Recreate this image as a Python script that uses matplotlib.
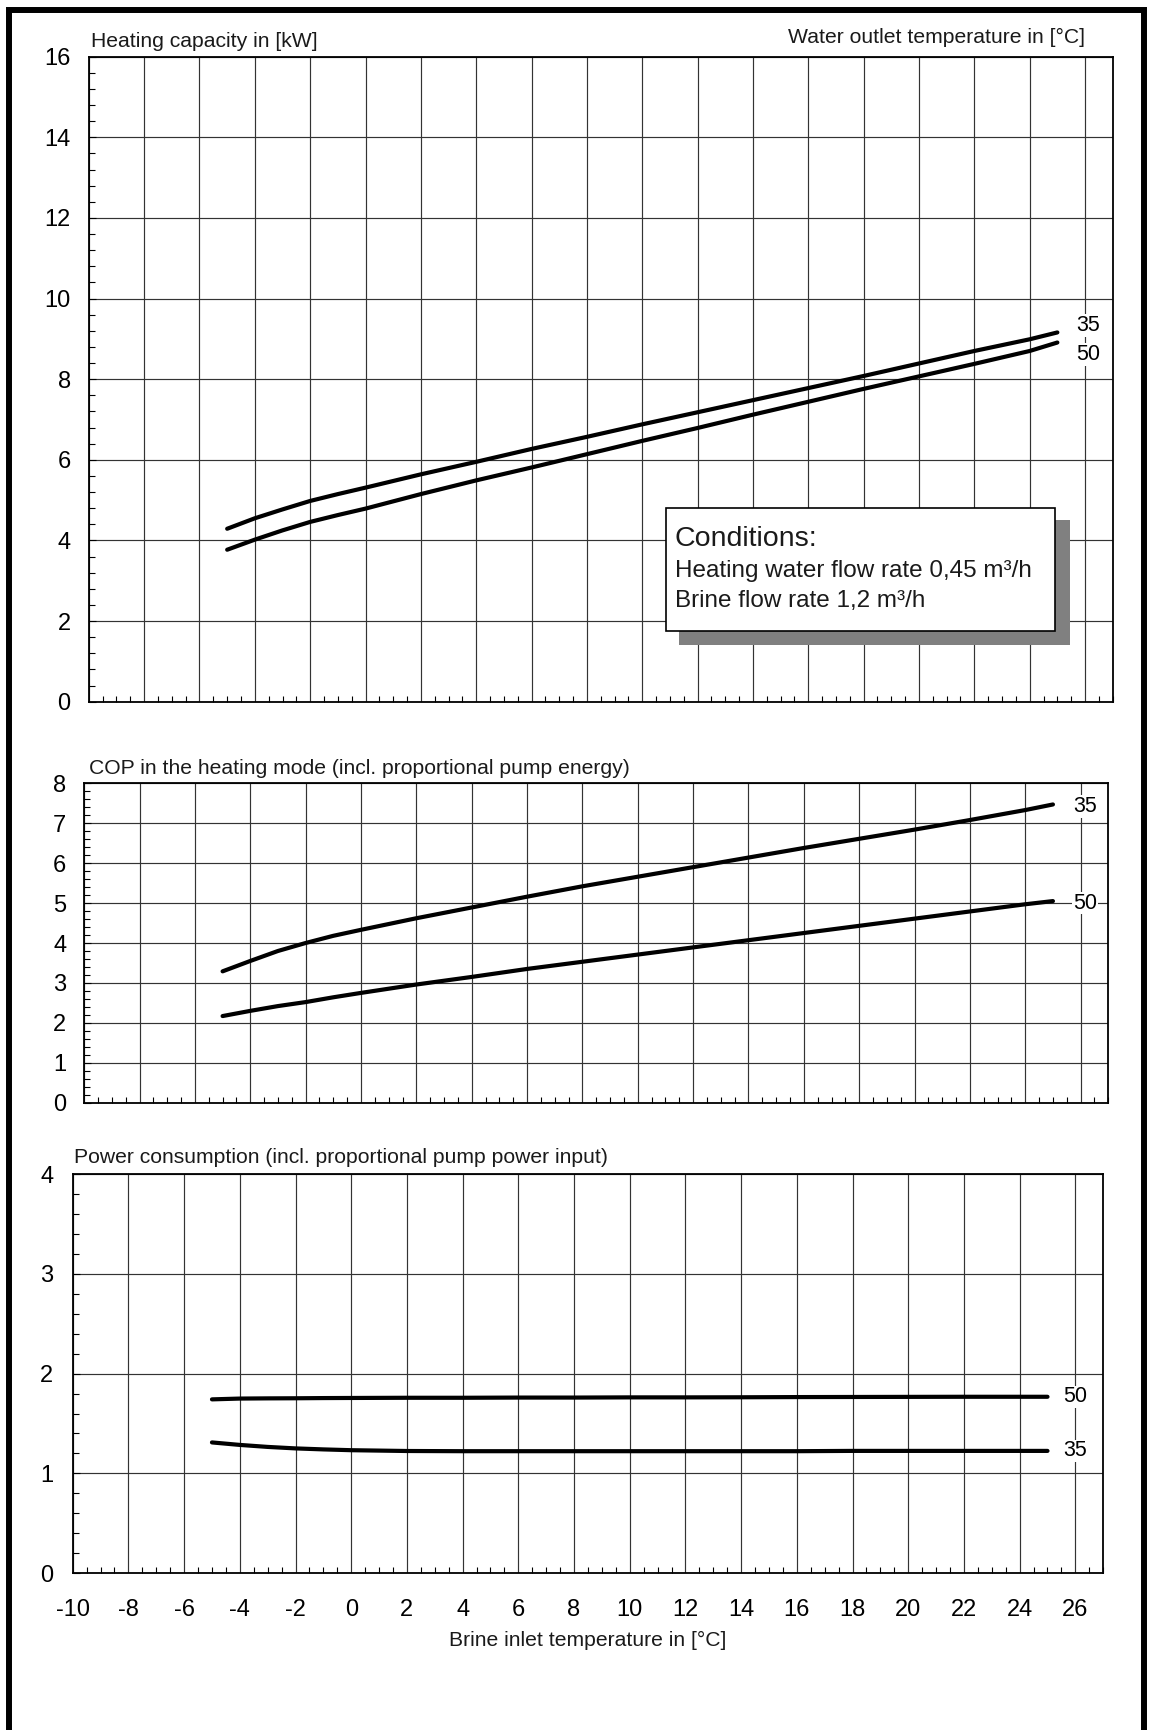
import matplotlib
matplotlib.use("Agg")
import matplotlib.pyplot as plt
from matplotlib.lines import Line2D
from matplotlib.patches import Rectangle
from matplotlib.ticker import MultipleLocator

plt.rcParams["font.family"] = ["Liberation Sans", "DejaVu Sans"]
plt.rcParams["axes.unicode_minus"] = False

# brine inlet temperature (deg C)
brine_t = [-5, -4, -3, -2, -1, 0, 2, 4, 6, 8, 10, 12, 14, 16, 18, 20, 22, 24, 25]

# heating capacity in kW, water outlet 35 / 50 deg C
cap_35 = [4.29, 4.55, 4.77, 4.98, 5.15, 5.31, 5.64, 5.95, 6.27, 6.57, 6.88, 7.18, 7.48, 7.78, 8.08, 8.39, 8.70, 8.99, 9.16]
cap_50 = [3.77, 4.02, 4.25, 4.46, 4.63, 4.79, 5.15, 5.49, 5.81, 6.14, 6.47, 6.79, 7.12, 7.44, 7.76, 8.07, 8.38, 8.70, 8.91]

# COP incl. proportional pump energy
cop_35 = [3.29, 3.55, 3.80, 4.00, 4.18, 4.33, 4.62, 4.89, 5.16, 5.42, 5.66, 5.90, 6.14, 6.38, 6.61, 6.84, 7.08, 7.33, 7.47]
cop_50 = [2.17, 2.30, 2.42, 2.52, 2.64, 2.75, 2.96, 3.15, 3.35, 3.53, 3.71, 3.89, 4.07, 4.25, 4.43, 4.61, 4.79, 4.97, 5.05]

# power consumption in kW
pow_35 = [1.31, 1.285, 1.265, 1.25, 1.24, 1.232, 1.224, 1.222, 1.222, 1.222, 1.222, 1.222, 1.222, 1.222, 1.225, 1.225, 1.225, 1.225, 1.225]
pow_50 = [1.742, 1.75, 1.752, 1.753, 1.755, 1.756, 1.758, 1.758, 1.76, 1.76, 1.762, 1.762, 1.763, 1.765, 1.766, 1.767, 1.768, 1.768, 1.768]

W, H = 1150, 1730
fig = plt.figure(figsize=(W / 100, H / 100), dpi=100)
TXT = "#1a1a1a"


def px_axes(left, top, right, bottom):
    return fig.add_axes([left / W, 1 - bottom / H, (right - left) / W, (bottom - top) / H])


def style(ax, ymax, ystep, yminor, ypad):
    ax.set_xlim(-10, 27)
    ax.set_ylim(0, ymax)
    ax.xaxis.set_major_locator(MultipleLocator(2))
    ax.xaxis.set_minor_locator(MultipleLocator(0.5))
    ax.yaxis.set_major_locator(MultipleLocator(ystep))
    ax.yaxis.set_minor_locator(MultipleLocator(yminor))
    ax.grid(True, which="major", color="#333333", lw=0.85)
    ax.tick_params(which="both", direction="in", top=False, right=False)
    ax.tick_params(which="minor", length=4.5, width=0.8)
    ax.tick_params(axis="y", which="major", length=5, width=0.8, labelsize=17, pad=ypad)
    ax.tick_params(axis="x", which="major", length=0, labelsize=17, pad=19)
    for s in ax.spines.values():
        s.set_linewidth(1.3)


def curve_labels(ax, y35, y50, off35, off50):
    for txt, y, off in (("35", y35, off35), ("50", y50, off50)):
        ax.annotate(txt, xy=(brine_t[-1], y[-1]), xytext=off, textcoords="offset pixels",
                    ha="center", va="center", fontsize=15.5,
                    bbox=dict(fc="white", ec="none", pad=0.5))


# heating capacity
ax1 = px_axes(88.8, 56.7, 1112.7, 701.7)
style(ax1, 16, 2, 0.4, 13)
ax1.tick_params(labelbottom=False)
ax1.plot(brine_t, cap_35, color="black", lw=3, solid_capstyle="round")
ax1.plot(brine_t, cap_50, color="black", lw=3, solid_capstyle="round")
curve_labels(ax1, cap_35, cap_50, (31, 7), (31, -12))

ax1.add_patch(Rectangle((0.5767, 0.0879), 0.3816, 0.1938, transform=ax1.transAxes,
                        fc="#808080", ec="none", zorder=4))
ax1.add_patch(Rectangle((0.5634, 0.1101), 0.3805, 0.1907, transform=ax1.transAxes,
                        fc="white", ec="black", lw=1.2, zorder=5))
ax1.text(0.5725, 0.2419, "Conditions:", transform=ax1.transAxes, fontsize=20.5,
         va="baseline", color=TXT, zorder=6)
ax1.text(0.5725, 0.1938, "Heating water flow rate 0,45 m³/h", transform=ax1.transAxes,
         fontsize=17.5, va="baseline", color=TXT, zorder=6)
ax1.text(0.5725, 0.1473, "Brine flow rate 1,2 m³/h", transform=ax1.transAxes,
         fontsize=17.5, va="baseline", color=TXT, zorder=6)

# COP
ax2 = px_axes(84.2, 783.3, 1108.3, 1102.7)
style(ax2, 8, 1, 0.2, 13)
ax2.tick_params(labelbottom=False)
ax2.plot(brine_t, cop_35, color="black", lw=3, solid_capstyle="round")
ax2.plot(brine_t, cop_50, color="black", lw=3, solid_capstyle="round")
curve_labels(ax2, cop_35, cop_50, (32, -2), (32, -2))

# power consumption
ax3 = px_axes(72.7, 1174.3, 1103.2, 1573)
style(ax3, 4, 1, 0.2, 14)
ax3.plot(brine_t, pow_35, color="black", lw=3, solid_capstyle="round")
ax3.plot(brine_t, pow_50, color="black", lw=3, solid_capstyle="round")
curve_labels(ax3, pow_35, pow_50, (28, 0), (28, 0))
ax3.set_xlabel("Brine inlet temperature in [°C]", fontsize=15.2, labelpad=7, color=TXT)

# panel captions
fig.text(90.7 / W, 1 - 46.7 / H, "Heating capacity in [kW]", fontsize=15.2, va="baseline", color=TXT)
fig.text(1085 / W, 1 - 43 / H, "Water outlet temperature in [°C]", fontsize=15.2, ha="right",
         va="baseline", color=TXT)
fig.text(88.8 / W, 1 - 774 / H, "COP in the heating mode (incl. proportional pump energy)",
         fontsize=15.2, va="baseline", color=TXT)
fig.text(74 / W, 1 - 1163 / H, "Power consumption (incl. proportional pump power input)",
         fontsize=15.2, va="baseline", color=TXT)

# outer frame (open at the bottom)
xl, xr, yt = 8.5 / W, 1144 / W, 1 - 9.5 / H
fig.add_artist(Line2D([xl, xl, xr, xr], [-0.01, yt, yt, -0.01], transform=fig.transFigure,
                      color="black", lw=4.3, solid_joinstyle="miter"))

fig.savefig("out.png", dpi=100)
